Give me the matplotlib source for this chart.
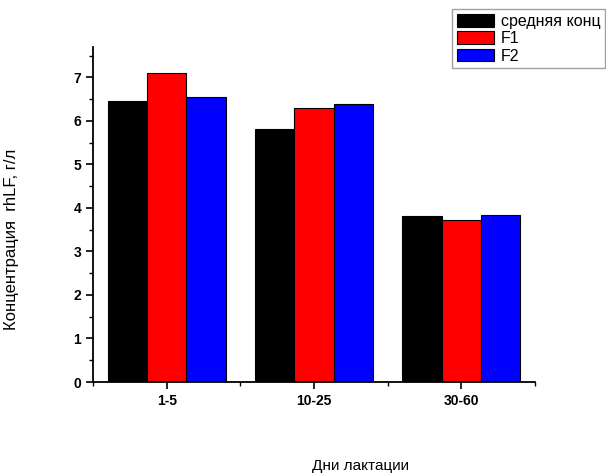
import matplotlib.pyplot as plt
import numpy as np
from matplotlib.ticker import MultipleLocator

plt.rcParams['font.family'] = ['Liberation Sans', 'DejaVu Sans']

# Концентрация rhLF по периодам лактации
periods = ['1-5', '10-25', '30-60']
avg_conc = [6.45, 5.82, 3.82]
f1 = [7.10, 6.30, 3.72]
f2 = [6.56, 6.38, 3.84]
series_names = ['средняя конц', 'F1', 'F2']
colors = ['#000000', '#ff0000', '#0000ff']

fig = plt.figure(figsize=(6.06, 4.75), dpi=100)
ax = fig.add_axes([93 / 606, 93 / 475, 442 / 606, 335 / 475])

x = np.arange(1, len(periods) + 1)
w = 0.8 / 3
for i, (vals, name, c) in enumerate(zip([avg_conc, f1, f2], series_names, colors)):
    ax.bar(x + (i - 1) * w, vals, w, color=c, edgecolor='black', linewidth=0.8, label=name)

ax.set_xlim(0.5, 3.5)
ax.set_ylim(0, 7.7)
ax.set_xticks(x)
ax.set_xticklabels(periods)
ax.xaxis.set_minor_locator(MultipleLocator(0.5))
ax.yaxis.set_major_locator(MultipleLocator(1))
ax.yaxis.set_minor_locator(MultipleLocator(0.5))
ax.spines['top'].set_visible(False)
ax.spines['right'].set_visible(False)
for s in ('left', 'bottom'):
    ax.spines[s].set_linewidth(1.3)
ax.tick_params(which='major', direction='out', length=5, width=1.2, labelsize=10)
ax.tick_params(which='minor', direction='out', length=3, width=1)
for lab in ax.get_xticklabels() + ax.get_yticklabels():
    lab.set_fontweight('bold')

fig.text(12 / 606, 1 - 239 / 475, 'Концентрация  rhLF, г/л', rotation=90,
         ha='center', va='center', fontsize=12)
fig.text(360 / 606, 1 - 466 / 475, 'Дни лактации', ha='center', va='center', fontsize=11)

leg = fig.legend(loc='upper left', bbox_to_anchor=(452 / 606, 1 - 9 / 475),
                 fontsize=11.5, frameon=True, fancybox=False, handlelength=2.35,
                 handleheight=0.85, handletextpad=0.4, labelspacing=0.15,
                 borderpad=0.3, borderaxespad=0)
leg.get_frame().set_edgecolor('#888888')
leg.get_frame().set_linewidth(1)

plt.savefig('out.png', dpi=100)
